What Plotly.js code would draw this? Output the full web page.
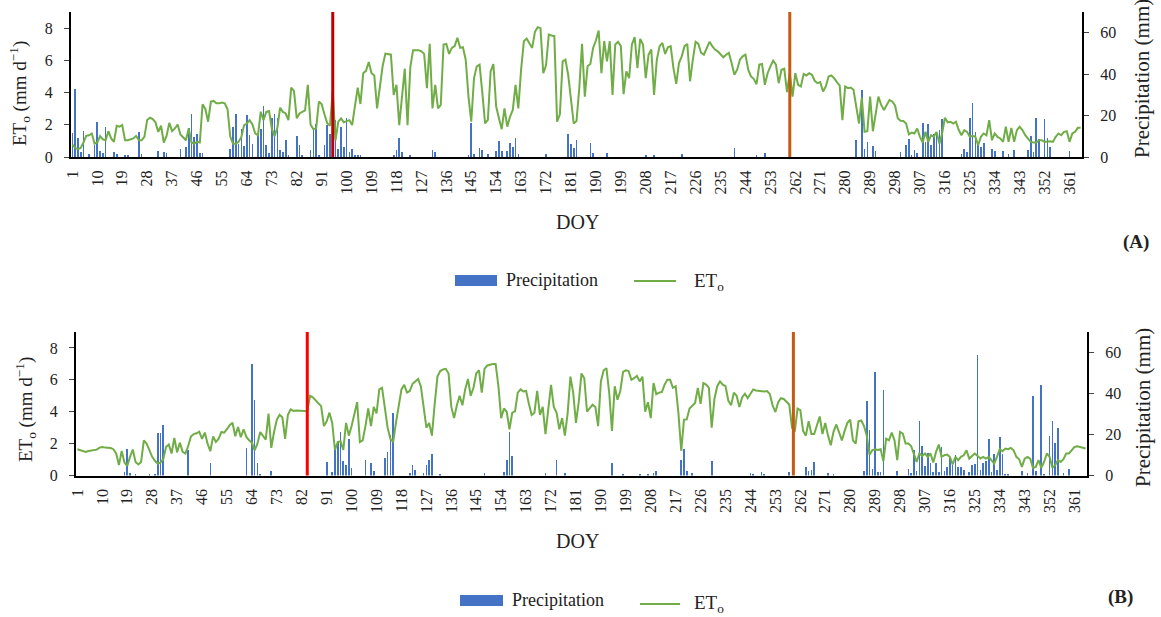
<!DOCTYPE html>
<html>
<head>
<meta charset="utf-8">
<script src="https://cdn.plot.ly/plotly-3.0.1.min.js"></script>
<style>html,body{margin:0;padding:0;background:#fff;}#chart{width:1161px;height:617px;}</style>
</head>
<body>
<div id="chart"></div>
<script>
// ---------- DATA ----------
const xTickLabels = [1,10,19,28,37,46,55,64,73,82,91,100,109,118,127,136,145,154,163,172,181,190,199,208,217,226,235,244,253,262,271,280,289,298,307,316,325,334,343,352,361];

// Panel (A) daily reference evapotranspiration ET_o (mm/d), DOY 1..365
const etA = [
0.77,0.56,0.48,0.56,0.9,1.31,1.35,1.46,0.83,0.9,
1.3,1.1,1.04,1.6,1.15,0.94,1.94,1.88,1.98,1.04,
1.04,1.1,1.15,1.3,1.04,1.04,1.25,2.29,2.44,2.35,
2.15,1.56,1.94,0.9,1.31,2.12,1.6,1.77,2.02,1.4,
1.25,1.04,1.77,0.9,0.83,0.94,0.9,3.27,2.98,2.19,
3.44,3.48,3.33,3.33,3.38,3.33,2.98,1.25,0.83,0.83,
0.94,1.25,1.98,2.08,2.29,2.02,1.46,1.35,2.81,2.29,
2.81,2.85,1.77,1.3,1.8,3.06,2.8,2.7,2.29,4.31,
4.1,2.4,2.7,2.81,2.9,4.48,2.0,1.73,1.77,3.44,
3.27,2.65,2.1,1.94,4.1,1.04,2.19,2.4,2.15,2.23,
2.29,1.98,3.13,4.31,3.29,5.2,5.35,5.9,5.2,5.06,
3.02,4.48,5.63,6.42,6.4,6.35,3.85,4.48,1.98,3.65,
5.48,1.98,5.58,6.63,6.63,6.63,6.56,6.4,4.27,7.02,
3.02,4.48,3.02,3.23,6.98,7.02,6.4,6.77,6.88,7.4,
6.77,6.81,6.04,3.75,2.19,4.9,5.63,5.73,4.0,2.08,
2.3,5.31,5.77,3.13,2.4,1.73,3.02,1.88,2.5,2.92,
4.48,3.02,5.42,7.19,7.35,7.08,6.77,7.77,8.06,8.0,
5.2,5.69,7.6,7.54,7.5,2.19,2.65,5.94,6.04,5.1,
3.65,2.08,2.23,4.27,7.02,3.75,5.63,5.77,6.77,7.23,
7.85,5.2,7.19,5.94,7.19,3.85,6.98,7.15,6.88,3.9,
5.31,4.9,6.98,7.44,5.52,7.33,6.98,4.9,6.35,6.67,
3.85,6.04,6.88,7.08,6.4,6.81,6.88,5.52,4.54,5.83,
6.25,6.88,7.02,4.7,6.04,7.15,7.02,6.46,6.35,6.81,
7.15,6.88,6.67,6.56,6.4,6.19,6.35,6.46,5.83,5.1,
5.42,6.04,6.25,6.35,5.42,5.0,4.85,4.52,5.73,5.77,
4.48,5.2,5.63,5.98,5.73,4.58,5.42,5.48,4.02,5.2,
3.75,5.2,4.48,4.38,5.15,5.06,5.2,5.1,4.73,4.58,
4.65,4.06,4.38,5.0,5.06,4.9,4.65,4.44,2.29,4.38,
4.27,4.31,4.17,3.13,2.08,3.69,1.56,1.6,3.75,1.6,
2.81,3.75,3.23,2.92,3.23,3.54,3.45,3.2,2.4,2.25,
2.23,2.08,1.4,1.52,1.46,1.77,1.25,0.9,1.56,0.94,
1.35,1.25,1.56,0.83,1.46,2.44,2.15,2.19,2.08,2.19,
1.67,1.35,1.67,1.56,1.25,1.31,1.25,0.73,1.25,1.46,
1.35,2.29,1.04,1.46,1.25,1.15,0.94,1.88,0.94,1.81,
0.94,1.67,1.88,1.67,1.35,1.15,0.94,0.9,0.9,1.04,
1.04,0.94,0.98,0.98,0.94,1.25,1.46,1.35,1.56,1.6,
0.94,1.46,1.56,1.81,1.81];

// Panel (A) precipitation (mm): rainy days and amounts
const precipDaysA = [1,2,3,4,5,7,9,10,11,12,13,16,17,20,21,25,26,32,34,35,40,42,43,44,45,46,47,48,
58,59,60,61,62,63,64,65,66,68,69,70,71,72,73,74,75,76,77,78,79,82,83,84,87,88,89,90,92,93,94,95,96,97,98,99,100,101,102,103,104,105,
117,118,119,120,123,131,132,144,145,146,148,149,151,154,155,156,158,159,160,161,162,172,180,181,182,183,188,189,194,208,211,221,240,248,251,
284,286,287,288,290,291,300,302,303,304,305,306,308,309,310,311,312,313,314,315,322,323,324,325,326,327,328,329,330,333,334,337,339,341,346,347,348,349,350,352,353,354,361];
const precipA = [11.7,32.9,9.4,2.4,12.6,1.6,5.7,17,2.9,1.9,14.6,2.4,1.3,1.2,1.2,12.2,1.5,2.8,2.4,2,4,4.9,13.8,20.6,9.7,11.3,1.8,1.8,
3.7,14.6,21,6.5,13.5,5.2,20.3,10.5,6.2,11.8,13.5,24.6,6,1.9,19,21,18.6,3.2,2.4,8.1,1.1,10.2,6,1.1,3.6,13.8,15.7,1.1,6,15.4,10.9,24,17.8,4,14.3,4.9,19,2.4,4,1.2,1,1,
1,3.6,9.2,2.4,1,3.6,2.4,1.2,16.5,1.6,4.4,3.2,1.6,2.8,7.6,2.9,2.8,6.8,4.9,9.4,1.6,1.6,10.9,6.2,4.5,8.4,7,1.9,2.1,1.1,1.1,1.6,4.4,1.1,1.9,
8.4,32.4,4,7.3,5.3,2.8,2.4,5.7,8.9,1.1,3.2,2.1,16.2,7.3,15.9,5.7,10.9,11.8,13,18.3,1.6,4,2.4,18.6,26.3,12.2,5.7,4.9,7,4,2.8,2.9,1.6,3.2,3.2,10,2.4,18.6,8.6,18.2,9.2,4.9,2.8];

// Panel (B) daily ET_o (mm/d), DOY 1..365
const etB = [
1.65,1.58,1.52,1.48,1.54,1.58,1.58,1.62,1.75,1.79,
1.75,1.73,1.72,1.65,1.38,0.65,1.54,0.81,0.6,1.17,
1.63,0.85,0.69,0.85,2.2,2.0,1.52,1.17,0.92,0.75,
0.81,1.02,1.79,1.94,1.38,2.35,1.45,2.06,1.48,1.38,
1.85,2.45,2.6,2.65,2.75,2.3,2.69,2.0,1.52,2.45,
2.1,2.31,2.73,2.69,2.9,3.15,3.31,2.46,3.04,2.4,
2.9,2.42,2.21,2.06,1.58,2.0,2.73,2.52,2.25,3.88,
1.73,2.73,3.5,3.81,3.65,2.3,3.8,4.15,4.05,4.08,
4.08,4.08,4.05,4.02,5.0,4.9,4.7,4.5,4.35,3.1,
3.4,3.94,3.3,1.6,2.1,2.15,1.6,3.3,2.5,3.1,
3.94,4.6,2.1,2.2,3.1,4.2,3.1,4.3,3.9,5.4,
5.5,4.1,3.0,2.3,2.1,3.3,4.5,5.4,5.69,5.2,
5.3,5.75,5.9,6.05,5.6,4.2,3.0,3.3,2.5,4.5,
6.2,6.55,6.65,6.69,6.4,4.3,3.6,4.4,5.0,4.4,
5.4,6.06,5.0,5.5,6.4,6.6,5.2,6.7,6.9,6.95,
7.0,7.0,5.6,3.6,4.2,4.0,2.9,3.94,4.02,5.2,
5.4,5.27,5.3,4.5,3.8,3.94,5.3,3.8,4.3,2.6,
4.0,5.69,4.3,3.95,2.9,3.6,2.5,3.9,6.2,5.2,
3.3,4.6,6.4,6.1,4.0,4.2,4.44,4.3,3.1,5.9,
6.6,6.73,5.2,2.8,5.6,4.75,5.3,6.5,6.6,6.55,
6.0,6.1,6.25,5.9,6.2,4.0,4.6,3.6,5.8,5.1,
5.2,5.23,5.7,6.0,6.0,5.5,5.6,3.9,1.55,3.5,
3.52,4.2,4.35,4.55,5.5,4.5,5.8,5.7,5.5,3.0,
4.8,5.6,5.9,5.7,5.6,4.7,4.4,5.2,5.0,4.3,
4.9,5.13,4.85,5.1,5.4,5.33,5.3,5.29,5.27,5.3,
5.1,4.4,3.98,4.6,4.85,4.8,4.65,4.45,3.0,2.75,
4.2,4.1,2.8,2.5,3.4,2.6,2.6,3.1,3.7,2.6,
3.3,2.5,1.9,2.75,3.2,2.7,2.2,2.8,3.3,3.5,
2.2,2.0,3.4,3.45,3.1,2.5,1.3,1.6,1.65,1.6,
1.65,0.9,2.31,2.21,2.69,2.21,0.96,2.73,2.63,2.0,
2.0,1.85,1.38,0.85,1.38,1.23,1.38,1.17,1.38,0.81,
1.48,1.94,1.17,1.27,1.31,1.17,0.69,1.17,0.96,1.17,
1.27,1.58,1.06,1.23,1.38,1.23,1.06,1.17,1.06,1.17,
0.96,0.75,1.17,1.65,1.52,1.69,1.65,1.73,1.58,1.17,
1.02,0.54,1.06,1.17,1.06,0.48,0.54,0.96,0.48,0.85,
1.38,1.17,0.48,0.65,0.96,0.85,1.02,1.38,1.38,1.58,
1.79,1.83,1.79,1.73,1.69];

// Panel (B) precipitation (mm)
const precipDaysB = [18,19,20,22,27,29,30,31,32,41,49,62,64,65,66,67,71,91,93,94,95,96,97,98,99,100,105,107,108,112,113,114,115,121,122,123,126,127,128,129,132,
148,155,156,157,158,170,174,177,194,198,204,207,209,210,219,220,221,223,230,244,245,248,249,258,264,265,266,267,272,274,285,286,287,288,289,290,291,292,
297,301,302,303,304,305,306,307,308,309,310,311,312,313,314,315,316,317,318,319,320,321,323,324,325,326,327,328,329,330,331,332,333,334,335,336,337,342,344,346,347,349,350,352,353,354,355,357,359];
const precipB = [1.8,12.7,1,0.5,0.5,0.6,20.5,20.5,24.7,12.5,6.3,13.3,54.3,36.7,6.1,0.5,2.1,6.6,1.8,12.2,17,21,6.9,5,17.8,3.7,7.4,6.1,2.1,8.5,11.7,19.7,30.3,1,5,2.9,1,5,7.4,10.3,0.5,
1,1.8,7.7,21.3,9.3,1,7.4,1.3,6.3,0.5,0.5,0.6,1,2.1,7.4,12.7,2.1,1,6.9,1.3,0.8,1.8,0.5,1.8,4.2,2.2,2.9,6.6,1.3,0.5,2.1,36.2,22.1,3,50.3,1.8,1.8,41.5,
2.1,3.4,1.3,12.2,2.1,26.6,14.3,4.6,11.1,6.3,1.8,6.3,1.8,13.8,2.2,4.2,8.5,5,10.1,4.2,4,2.6,1.8,5.3,5.8,59,2.9,6.1,6.9,17.8,1.8,10.6,2.6,18.6,10.6,0.5,0.5,2.2,1.3,39,2.2,44.2,0.5,19.1,26.6,15.9,23.4,1,3];

// Season markers (DOY)
const markersA = [95, 260];
const markersB = [84, 259.5];

// ---------- CHART ----------
const doy = [];
for (let d = 1; d <= 365; d++) doy.push(d);

const W = 1161, H = 617;
const px = v => v / W;
const py = v => 1 - v / H;
const FONT = 'Liberation Serif, Times New Roman, serif';
const BLUE = '#4472C4', GREEN = '#70AD47';

const traces = [
  {type:'bar', x:precipDaysA, y:precipA, xaxis:'x', yaxis:'y', marker:{color:BLUE}, width:0.6, showlegend:false, name:'Precipitation'},
  {type:'scatter', mode:'lines', x:doy, y:etA, xaxis:'x', yaxis:'y2', line:{color:GREEN, width:2}, showlegend:false, name:'ETo'},
  {type:'bar', x:precipDaysB, y:precipB, xaxis:'x2', yaxis:'y3', marker:{color:BLUE}, width:0.6, showlegend:false, name:'Precipitation'},
  {type:'scatter', mode:'lines', x:doy, y:etB, xaxis:'x2', yaxis:'y4', line:{color:GREEN, width:2}, showlegend:false, name:'ETo'}
];

const xCommon = {range:[0.5,365.5], tickvals:xTickLabels, ticktext:xTickLabels.map(String), tickangle:-90,
  showline:true, linecolor:'#000', linewidth:2, ticks:'', showgrid:false, zeroline:false, ticklabelstandoff:5,
  tickfont:{family:FONT, size:16, color:'#222'}};
const yPrecip = {range:[0,70], tickvals:[0,20,40,60], side:'right', showline:true, linecolor:'#000', linewidth:2,
  ticks:'outside', ticklen:5, tickcolor:'#444', showgrid:false, zeroline:false, ticklabelstandoff:8,
  tickfont:{family:FONT, size:16, color:'#222'}};
const yET = {range:[0,9], tickvals:[0,2,4,6,8], side:'left', showline:true, linecolor:'#000', linewidth:2,
  ticks:'outside', ticklen:5, tickcolor:'#444', showgrid:false, zeroline:false, ticklabelstandoff:8,
  tickfont:{family:FONT, size:16, color:'#222'}};

const domAx = [px(71), px(1082)], domAy = [py(157), py(12)];
const domBx = [px(76), px(1087)], domBy = [py(475.5), py(332)];

const shapes = [];
function vline(xref, x, dom, color){
  shapes.push({type:'line', xref:xref, yref:'paper', x0:x, x1:x, y0:dom[0], y1:dom[1], line:{color:color, width:3}});
}
vline('x', markersA[0], domAy, '#C00000');
vline('x', markersA[1], domAy, '#C55A11');
vline('x2', markersB[0], domBy, '#FF0000');
vline('x2', markersB[1], domBy, '#C55A11');

// legend keys
shapes.push({type:'rect', xref:'paper', yref:'paper', x0:px(455), x1:px(497), y0:py(286), y1:py(275), fillcolor:BLUE, line:{width:0}});
shapes.push({type:'line', xref:'paper', yref:'paper', x0:px(634), x1:px(676), y0:py(281), y1:py(281), line:{color:GREEN, width:2}});
shapes.push({type:'rect', xref:'paper', yref:'paper', x0:px(460), x1:px(503), y0:py(606), y1:py(595), fillcolor:BLUE, line:{width:0}});
shapes.push({type:'line', xref:'paper', yref:'paper', x0:px(640), x1:px(680), y0:py(604), y1:py(604), line:{color:GREEN, width:2}});

function ann(text, x, y, opts){
  return Object.assign({text:text, xref:'paper', yref:'paper', x:px(x), y:py(y), showarrow:false,
    xanchor:'center', yanchor:'middle',
    font:{family:FONT, size:19, color:'#222'}}, opts||{});
}
const annotations = [
  ann('ET<sub>o</sub> (mm d<sup>−1</sup>)', 20, 94, {textangle:-90}),
  ann('Precipitation (mm)', 1142, 79, {textangle:-90, font:{family:FONT, size:21, color:'#222'}}),
  ann('DOY', 577, 222, {font:{family:FONT, size:20, color:'#222'}}),
  ann('<b>(A)</b>', 1136, 242, {font:{family:FONT, size:19, color:'#222'}}),
  ann('Precipitation', 504, 280, {xanchor:'left', font:{family:FONT, size:18, color:'#222'}}),
  ann('ET<sub>o</sub>', 692, 282, {xanchor:'left', font:{family:FONT, size:19, color:'#222'}}),

  ann('ET<sub>o</sub> (mm d<sup>−1</sup>)', 25, 410, {textangle:-90}),
  ann('Precipitation (mm)', 1143, 408, {textangle:-90, font:{family:FONT, size:21, color:'#222'}}),
  ann('DOY', 577, 541, {font:{family:FONT, size:20, color:'#222'}}),
  ann('<b>(B)</b>', 1120, 597, {font:{family:FONT, size:19, color:'#222'}}),
  ann('Precipitation', 510, 600, {xanchor:'left', font:{family:FONT, size:18, color:'#222'}}),
  ann('ET<sub>o</sub>', 692, 604, {xanchor:'left', font:{family:FONT, size:19, color:'#222'}})
];

const layout = {
  width:W, height:H, margin:{l:0, r:0, t:0, b:0}, paper_bgcolor:'#fff', plot_bgcolor:'rgba(0,0,0,0)',
  showlegend:false, bargap:0, font:{family:FONT, color:'#222'},
  xaxis: Object.assign({}, xCommon, {domain:domAx, anchor:'y'}),
  yaxis: Object.assign({}, yPrecip, {domain:domAy, anchor:'x'}),
  yaxis2: Object.assign({}, yET, {overlaying:'y', anchor:'x'}),
  xaxis2: Object.assign({}, xCommon, {domain:domBx, anchor:'y3'}),
  yaxis3: Object.assign({}, yPrecip, {domain:domBy, anchor:'x2'}),
  yaxis4: Object.assign({}, yET, {overlaying:'y3', anchor:'x2'}),
  shapes:shapes, annotations:annotations
};

Plotly.newPlot('chart', traces, layout, {staticPlot:true, displayModeBar:false});
</script>
</body>
</html>
